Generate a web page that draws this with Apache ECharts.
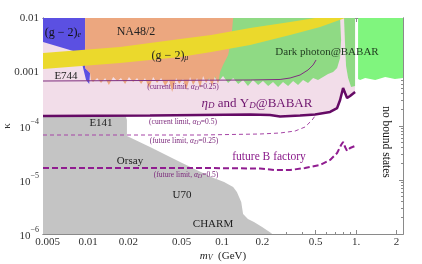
<!DOCTYPE html>
<html><head><meta charset="utf-8">
<script src="https://cdn.jsdelivr.net/npm/echarts@6/dist/echarts.min.js"></script>
<style>html,body{margin:0;padding:0;background:#fff}#c{width:422px;height:264px}</style>
</head><body><div id="c"></div>
<script>
// ---- axis ranges & ticks (m_V in GeV, kappa) ----
const xRange = [0.00461, 2.24];
const yRange = [1e-6, 1e-2];
const xTickValues = [0.005, 0.01, 0.02, 0.05, 0.1, 0.2, 0.5, 1, 2];
const xTickLabels = ['0.005', '0.01', '0.02', '0.05', '0.1', '0.2', '0.5', '1.', '2'];
const xMinorValues = [0.006, 0.007, 0.008, 0.009, 0.03, 0.04, 0.06, 0.07, 0.08, 0.09, 0.3, 0.4, 0.6, 0.7, 0.8, 0.9];
const yTickValues = [1e-2, 1e-3, 1e-4, 1e-5, 1e-6];
const yTickLabels = ['0.01', '0.001', '10^−4', '10^−5', '10^−6'];
const yMinorValues = [2e-6,3e-6,4e-6,5e-6,6e-6,7e-6,8e-6,9e-6,2e-5,3e-5,4e-5,5e-5,6e-5,7e-5,8e-5,9e-5,2e-4,3e-4,4e-4,5e-4,6e-4,7e-4,8e-4,9e-4,2e-3,3e-3,4e-3,5e-3,6e-3,7e-3,8e-3,9e-3];

// ---- excluded regions (boundary points [m_V, kappa]) ----
const grayRegion = [[0.00461,3.59e-3],[0.00871,2.25e-3],[0.00918,1.19e-3],[0.0095,7.74e-4],[0.0101,5.06e-4],[0.0117,4.45e-4],[0.0139,3.30e-4],[0.0159,2.55e-4],[0.0173,2.15e-4],[0.0189,1.67e-4],[0.0195,1.29e-4],[0.0195,6.53e-5],[0.029,4.08e-5],[0.0486,2.15e-5],[0.083,1.14e-5],[0.1035,9.18e-6],[0.121,7.42e-6],[0.129,6.0e-6],[0.139,3.91e-6],[0.1435,2.35e-6],[0.156,1.90e-6],[0.173,1.67e-6],[0.199,1.35e-6],[0.232,1.04e-6],[0.236,1e-6],[0.00461,1e-6]];
const blueRegion = [[0.00461,1e-2],[0.0095,1e-2],[0.0095,1.19e-3],[0.01035,9.58e-4],[0.0102,6.0e-4],[0.00966,7.11e-4],[0.00918,1.19e-3],[0.00871,2.25e-3],[0.00461,3.59e-3]];
const orangeRegion = [[0.0095,1e-2],[0.121,1e-2],[0.117,3.91e-3],[0.111,2.06e-3],[0.1017,1.35e-3],[0.0967,1e-3],[0.0934,6.0e-4],[0.0887,8.43e-4],[0.0842,5.5e-4],[0.08,7.74e-4],[0.076,6.25e-4],[0.0722,8.43e-4],[0.0686,5.06e-4],[0.0651,7.74e-4],[0.0608,5.74e-4],[0.0577,8.08e-4],[0.0539,4.64e-4],[0.0512,7.42e-4],[0.0478,6.0e-4],[0.0454,7.74e-4],[0.0424,4.26e-4],[0.0402,7.11e-4],[0.0376,5.5e-4],[0.0351,7.74e-4],[0.0327,6.25e-4],[0.0306,8.08e-4],[0.0285,5.06e-4],[0.0266,7.74e-4],[0.0249,6.0e-4],[0.0232,7.74e-4],[0.0217,6.53e-4],[0.0202,8.08e-4],[0.0189,6.0e-4],[0.0176,7.74e-4],[0.0165,6.81e-4],[0.0154,8.08e-4],[0.0143,5.74e-4],[0.0134,7.74e-4],[0.0125,6.25e-4],[0.0117,7.74e-4],[0.0109,6.53e-4],[0.0105,7.11e-4],[0.01035,9.58e-4],[0.0095,1.19e-3]];
const greenLeft = [[0.0446,1e-2],[0.760,1e-2],[0.773,3.91e-3],[0.760,1.82e-3],[0.722,1.19e-3],[0.674,1e-3],[0.618,9.18e-4],[0.567,8.08e-4],[0.520,7.11e-4],[0.478,7.74e-4],[0.438,6.25e-4],[0.402,7.11e-4],[0.369,5.74e-4],[0.339,6.81e-4],[0.311,5.5e-4],[0.285,6.53e-4],[0.262,5.28e-4],[0.240,6.53e-4],[0.221,5.5e-4],[0.202,6.81e-4],[0.186,5.74e-4],[0.170,7.11e-4],[0.156,5.5e-4],[0.1435,7.11e-4],[0.132,6.0e-4],[0.121,7.74e-4],[0.111,6.25e-4],[0.1017,8.43e-4],[0.0934,6.53e-4],[0.0857,8.8e-4],[0.0787,7.11e-4],[0.0722,9.18e-4],[0.0662,7.74e-4],[0.0608,9.58e-4],[0.0557,8.08e-4],[0.0512,1e-3],[0.0470,8.8e-4],[0.0446,1e-3]];
const greenMid = [[0.813,1e-2],[0.983,1e-2],[0.983,5.5e-4],[0.918,5.28e-4],[0.872,7.74e-4],[0.842,1.29e-3],[0.828,3.16e-3]];
const greenRight = [[1.035,1e-2],[2.24,1e-2],[2.24,7.74e-4],[1.95,7.42e-4],[1.65,8.08e-4],[1.39,7.11e-4],[1.17,7.74e-4],[1.071,7.11e-4],[1.035,7.42e-4]];
const yellowUpper = [[0.00461,2.25e-3],[0.0173,2.90e-3],[0.0486,4.08e-3],[0.083,4.84e-3],[0.162,6.53e-3],[0.322,8.43e-3],[0.494,1e-2]];
const yellowLower = [[0.00461,1.14e-3],[0.0173,1.47e-3],[0.0486,1.90e-3],[0.083,2.35e-3],[0.162,3.16e-3],[0.322,4.84e-3],[0.539,6.81e-3],[0.828,1e-2]];

// ---- limit curves ----
const currentHalf = [[0.00461,1.53e-4],[0.029,1.56e-4],[0.162,1.63e-4],[0.228,1.60e-4],[0.271,1.50e-4],[0.322,1.53e-4],[0.382,1.56e-4],[0.494,1.63e-4],[0.640,1.82e-4],[0.722,2.15e-4],[0.760,3.03e-4],[0.800,5.06e-4],[0.828,4.08e-4],[0.857,3.30e-4],[0.902,3.59e-4],[0.983,4.26e-4]];
const currentQuarter = [[0.00461,6.81e-4],[0.029,6.96e-4],[0.162,7.11e-4],[0.271,7.27e-4],[0.322,7.74e-4],[0.382,8.8e-4],[0.438,1.09e-3],[0.478,1.35e-3],[0.503,1.67e-3]];
const futureQuarter = [[0.00461,6.81e-5],[0.0686,6.81e-5],[0.192,7.11e-5],[0.271,7.42e-5],[0.351,8.08e-5],[0.416,9.58e-5],[0.470,1.29e-4],[0.512,1.74e-4]];
const futureHalf = [[0.00461,1.67e-5],[0.0686,1.67e-5],[0.192,1.63e-5],[0.249,1.53e-5],[0.322,1.53e-5],[0.416,1.67e-5],[0.539,1.90e-5],[0.640,2.35e-5],[0.722,3.16e-5],[0.773,4.45e-5],[0.800,5.06e-5],[0.828,4.08e-5],[0.857,3.44e-5],[0.902,3.91e-5],[0.983,4.26e-5]];

// ---------------------------------------------------------------
const L = Math.log10;
const toLog = pts => pts.map(p => [L(p[0]), L(p[1])]);
const pinkRegion = [[xRange[0], yRange[1]], [currentHalf[currentHalf.length-1][0], yRange[1]]].concat(currentHalf.slice().reverse());
const yellowRegion = yellowUpper.concat(yellowLower.slice().reverse());
const SERIF = "'Liberation Serif','DejaVu Serif',serif";

function poly(pts, fill, extra) {
  const lp = toLog(pts);
  return {
    type: 'custom', coordinateSystem: 'cartesian2d', xAxisIndex: 0, yAxisIndex: 0,
    silent: true, clip: true, data: [lp[0]],
    renderItem: (params, api) => ({
      type: 'polygon',
      shape: { points: lp.map(p => api.coord(p)) },
      style: Object.assign({ fill: fill }, extra || {})
    })
  };
}
function line(pts, color, width, type) {
  return {
    type: 'line', xAxisIndex: 0, yAxisIndex: 0, data: toLog(pts), symbol: 'none', silent: true,
    lineStyle: { color: color, width: width, type: type || 'solid' }, z: 5
  };
}
const frameColor = '#8a8a8a';
function xAx(pos, vals, len, labels) {
  return {
    type: 'value', position: pos, min: L(xRange[0]), max: L(xRange[1]),
    axisLine: { show: true, onZero: false, lineStyle: { color: frameColor, width: 1 } },
    axisTick: { show: true, inside: true, length: len, customValues: vals.map(L), lineStyle: { color: frameColor } },
    axisLabel: labels ? {
      show: true, customValues: xTickValues.map(L), margin: 3,
      fontFamily: SERIF, fontSize: 11, color: '#333',
      formatter: v => { const i = xTickValues.findIndex(t => Math.abs(L(t) - v) < 1e-6); return i >= 0 ? xTickLabels[i] : ''; }
    } : { show: false },
    splitLine: { show: false }
  };
}
function yAx(pos, vals, len, labels) {
  return {
    type: 'value', position: pos, min: L(yRange[0]), max: L(yRange[1]),
    axisLine: { show: true, onZero: false, lineStyle: { color: frameColor, width: 1 } },
    axisTick: { show: true, inside: true, length: len, customValues: vals.map(L), lineStyle: { color: frameColor } },
    axisLabel: labels ? {
      show: true, customValues: yTickValues.map(L), margin: 4,
      fontFamily: SERIF, fontSize: 11, color: '#333',
      formatter: v => {
        const i = yTickValues.findIndex(t => Math.abs(L(t) - v) < 1e-6);
        if (i < 0) return '';
        const s = yTickLabels[i];
        if (s.indexOf('^') < 0) return s;
        const parts = s.split('^');
        return '{n|' + parts[0] + '}{s|' + parts[1] + '}';
      },
      rich: {
        n: { fontFamily: SERIF, fontSize: 11, color: '#333', lineHeight: 16, verticalAlign: 'bottom' },
        s: { fontFamily: SERIF, fontSize: 8, color: '#333', lineHeight: 8, verticalAlign: 'top' }
      }
    } : { show: false },
    splitLine: { show: false }
  };
}

const richSub = {
  i: { fontFamily: SERIF, fontStyle: 'italic' },
  sub: { fontFamily: SERIF, fontSize: 6, lineHeight: 5, verticalAlign: 'bottom' },
  subi: { fontFamily: SERIF, fontSize: 6, lineHeight: 5, verticalAlign: 'bottom', fontStyle: 'italic' }
};
function T(text, x, y, size, color, extra) {
  const rich = {};
  Object.keys(richSub).forEach(k => {
    rich[k] = Object.assign({}, richSub[k], { fill: color });
    if (k !== 'i') rich[k].fontSize = Math.max(6, Math.round(size * 0.7));
    if (k === 'i') rich[k].fontSize = size;
  });
  return Object.assign({
    type: 'text', x: x, y: y, silent: true, z: 100,
    style: { text: text, fontFamily: SERIF, fontSize: size, fill: color, align: 'center', verticalAlign: 'middle', rich: rich }
  }, extra || {});
}
const purple = '#6e146e';
const graphics = [
  T('(g − 2){subi|e}', 63, 33, 12, '#111'),
  T('NA48/2', 136, 32, 12, '#222'),
  T('(g − 2){subi|μ}', 170, 56, 12, '#222'),
  T('Dark photon@BABAR', 327, 52, 11, '#1f3a1f'),
  T('E744', 66, 76, 11, '#222'),
  T('E141', 101, 123, 11, '#222'),
  T('(current limit, {i|α}{subi|D}=0.25)', 183, 87, 7.5, '#7a267a'),
  T('{i|η}{subi|D} and Υ{subi|D}@BABAR', 257, 104, 13, purple),
  T('(current limit, {i|α}{subi|D}=0.5)', 183, 122, 7.5, '#7a267a'),
  T('(future limit, {i|α}{subi|D}=0.25)', 184, 141, 7.5, '#7a267a'),
  T('future B factory', 269, 157, 11.5, '#8a1a8a'),
  T('Orsay', 130, 161, 11, '#222'),
  T('(future limit, {i|α}{subi|D}=0.5)', 186, 175, 7.5, '#7a267a'),
  T('U70', 182, 195, 11, '#222'),
  T('CHARM', 213, 224, 11, '#222'),
  T('no bound states', 386, 142, 11.5, '#111', { rotation: -Math.PI / 2 }),
  T('κ', 7, 126, 11, '#333', { rotation: Math.PI / 2 }),
  T('{i|m}{subi|V}  (GeV)', 223, 256, 11, '#222')
];

const chart = echarts.init(document.getElementById('c'), null, { renderer: 'canvas' });
chart.setOption({
  animation: false,
  backgroundColor: '#fff',
  grid: { left: 43, right: 19, top: 18, bottom: 30, containLabel: false, outerBoundsMode: 'none' },
  xAxis: [
    xAx('bottom', xTickValues, 4, true),
    xAx('bottom', xMinorValues, 2, false),
    xAx('top', xTickValues, 4, false),
    xAx('top', xMinorValues, 2, false)
  ],
  yAxis: [
    yAx('left', yTickValues, 4, true),
    yAx('left', yMinorValues, 2, false),
    yAx('right', yTickValues, 4, false),
    yAx('right', yMinorValues, 2, false)
  ],
  series: [
    poly(grayRegion, '#c4c4c4'),
    poly(pinkRegion, '#f2dde9', { blend: 'multiply' }),
    poly(blueRegion, '#5b50e2'),
    poly(greenLeft, '#8fda84'),
    poly(greenMid, '#8fda84'),
    poly(greenRight, '#80f57e'),
    poly(orangeRegion, '#eca77f'),
    poly(yellowRegion, '#ebd92c'),
    line(currentQuarter, '#7f2f7f', 1),
    line(futureQuarter, '#a645a6', 1, [4, 3]),
    line(currentHalf, '#650a65', 2.5),
    line(futureHalf, '#901c90', 2, [6, 3])
  ],
  graphic: graphics
});
</script></body></html>
